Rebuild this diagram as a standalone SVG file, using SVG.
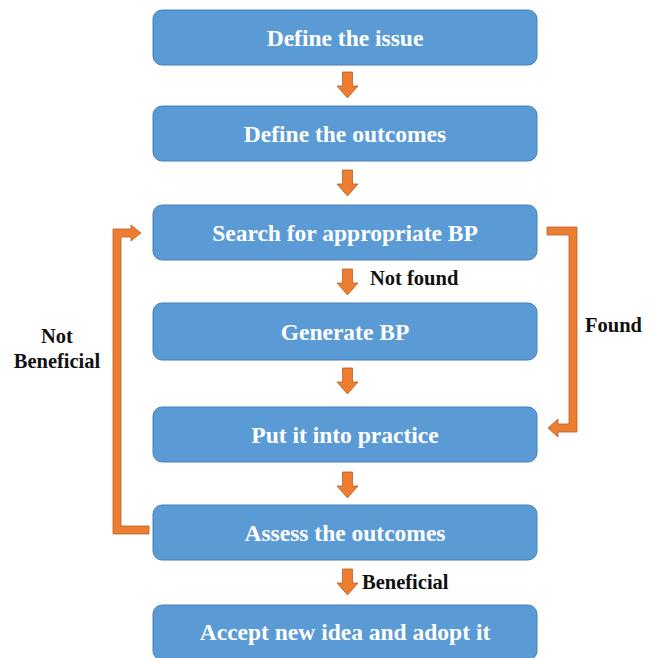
<svg xmlns="http://www.w3.org/2000/svg" xmlns:xlink="http://www.w3.org/1999/xlink" width="654" height="658" viewBox="0 0 654 658">
<style>
.box{fill:#5B9BD5;stroke:#4A7EB4;stroke-width:1}
.bt{font-family:"Liberation Serif","Times New Roman",serif;font-weight:bold;font-size:23.5px;fill:#fff;text-anchor:middle}
.lb{font-family:"Liberation Serif","Times New Roman",serif;font-weight:bold;font-size:20.5px;fill:#111}
.ar{fill:#ED7D31;stroke:#B85F22;stroke-width:0.8}
</style>
<defs>
<path id="dn" d="M-5,0 H5 V14 H10.5 L0,26 L-10.5,14 H-5 Z"/>
</defs>
<rect width="654" height="658" fill="#fff"/>
<g id="n1"><rect class="box" x="153" y="10" width="384" height="55" rx="9"/><text class="bt" x="345" y="45.5">Define the issue</text></g>
<g id="n2"><rect class="box" x="153" y="106" width="384" height="55" rx="9"/><text class="bt" x="345" y="141.5">Define the outcomes</text></g>
<g id="n3"><rect class="box" x="153" y="205" width="384" height="55" rx="9"/><text class="bt" x="345" y="240.5">Search for appropriate BP</text></g>
<g id="n4"><rect class="box" x="153" y="303" width="384" height="57" rx="9"/><text class="bt" x="345" y="339.5">Generate BP</text></g>
<g id="n5"><rect class="box" x="153" y="407" width="384" height="55" rx="9"/><text class="bt" x="345" y="442.5">Put it into practice</text></g>
<g id="n6"><rect class="box" x="153" y="505" width="384" height="55" rx="9"/><text class="bt" x="345" y="540.5">Assess the outcomes</text></g>
<g id="n7"><rect class="box" x="153" y="605" width="384" height="55" rx="9"/><text class="bt" x="345" y="640">Accept new idea and adopt it</text></g>
<g id="connectors">
<use href="#dn" class="ar" x="347.5" y="72"/>
<use href="#dn" class="ar" x="347.5" y="170"/>
<use href="#dn" class="ar" x="347.5" y="269"/>
<use href="#dn" class="ar" x="347.5" y="368"/>
<use href="#dn" class="ar" x="347.5" y="472"/>
<use href="#dn" class="ar" x="347.5" y="569"/>
<path class="ar" d="M547,227 H577 V432 H558 V437 L548,428 L558,419 V424 H569 V235 H547 Z"/>
<path class="ar" d="M113,229 H131 V225 L141,233 L131,241 V237 H121 V526 H149 V534 H113 Z"/>
<text class="lb" x="370" y="285">Not found</text>
<text class="lb" x="585" y="332">Found</text>
<text class="lb" x="362" y="589">Beneficial</text>
<text class="lb" x="57" y="343" text-anchor="middle">Not</text>
<text class="lb" x="57" y="368" text-anchor="middle">Beneficial</text>
</g>
</svg>
